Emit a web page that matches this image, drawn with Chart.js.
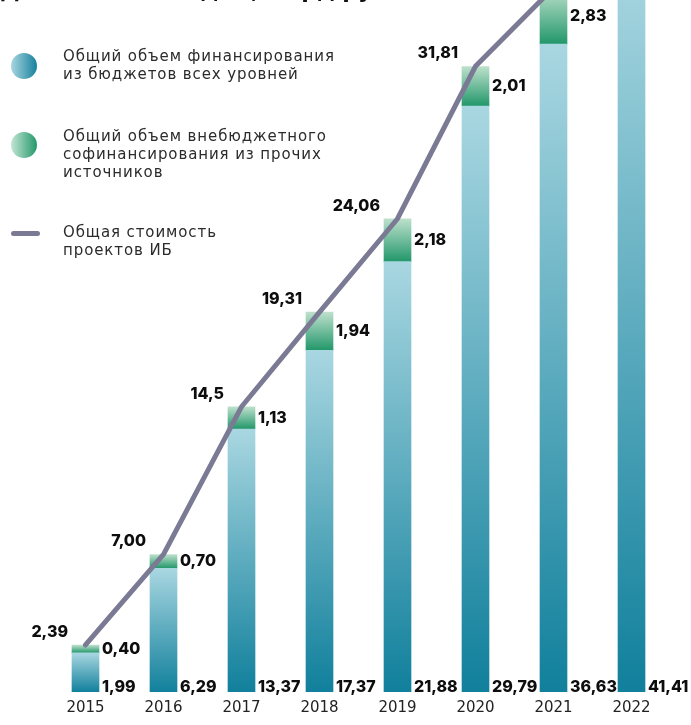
<!DOCTYPE html>
<html lang="ru">
<head>
<meta charset="utf-8">
<script src="https://cdn.jsdelivr.net/npm/chart.js@4.4.0/dist/chart.umd.min.js"></script>
<style>
  body { margin: 0; background: #fff; }
  #wrap { position: relative; width: 691px; height: 725px; overflow: hidden; }
  #wrap canvas { position: absolute; left: 0; top: 0; }
  .title { position: absolute; left: 0; top: -22px; font: bold 22px "DejaVu Sans"; line-height: 26px; color: #111; white-space: nowrap; }
  .legend-text { position: absolute; left: 63px; font: 15px "DejaVu Sans"; line-height: 18px; letter-spacing: 0.9px; color: #2b2b2b; }
  .dot { position: absolute; left: 11px; width: 26px; height: 26px; border-radius: 50%; }
  .dash { position: absolute; left: 11px; top: 231px; width: 29px; height: 5px; border-radius: 3px; background: #7a7a94; }
</style>
</head>
<body>
<div id="wrap">
  <canvas id="chart" width="691" height="725"></canvas>
  <div class="title">Динамика по годам, млрд руб.</div>
  <div class="dot" style="top:53px; background: linear-gradient(90deg, #a9d6e0, #16809c);"></div>
  <div class="legend-text" style="top:47px;">Общий объем финансирования<br>из бюджетов всех уровней</div>
  <div class="dot" style="top:132px; background: linear-gradient(90deg, #c3e5d3, #23986a);"></div>
  <div class="legend-text" style="top:127px;">Общий объем внебюджетного<br>софинансирования из прочих<br>источников</div>
  <div class="dash"></div>
  <div class="legend-text" style="top:223px;">Общая стоимость<br>проектов ИБ</div>
</div>
<script>
// years on the x axis
const years = ['2015', '2016', '2017', '2018', '2019', '2020', '2021', '2022'];

// bar heights as drawn in the picture (2021 and 2022 are drawn shorter than their labels)
const budget = [1.99, 6.29, 13.37, 17.37, 21.88, 29.79, 32.94, 37.2];
const extra = [0.40, 0.70, 1.13, 1.94, 2.18, 2.01, 2.83, 3.0];
const total = [2.39, 7.00, 14.5, 19.31, 24.06, 31.81, 35.8, 40.2];

// printed labels
const budgetLabels = ['1,99', '6,29', '13,37', '17,37', '21,88', '29,79', '36,63', '41,41'];
const extraLabels = ['0,40', '0,70', '1,13', '1,94', '2,18', '2,01', '2,83', null];
const totalLabels = ['2,39', '7,00', '14,5', '19,31', '24,06', '31,81', null, null];

const blueColors = ['#a9d7e1', '#11809c'];
const greenColors = ['#bde0cc', '#22976a'];

// vertical gradient per bar segment, light at top, dark at bottom
function segmentGradient(context, colors, startArr, endArr) {
  const chart = context.chart;
  if (!chart.chartArea || context.type !== 'data') return colors[1];
  const i = context.dataIndex;
  const y = chart.scales.y;
  const top = y.getPixelForValue(endArr(i));
  const bottom = y.getPixelForValue(startArr(i));
  const g = chart.ctx.createLinearGradient(0, top, 0, bottom);
  g.addColorStop(0, colors[0]);
  g.addColorStop(1, colors[1]);
  return g;
}

const valueLabels = {
  id: 'valueLabels',
  afterDatasetsDraw(chart) {
    const ctx = chart.ctx;
    const blue = chart.getDatasetMeta(0).data;
    const green = chart.getDatasetMeta(1).data;
    ctx.save();
    ctx.font = '800 16px Inter';
    ctx.fillStyle = '#0d0d0d';
    blue.forEach((bar, i) => {
      const half = bar.width / 2;
      ctx.textAlign = 'left';
      ctx.textBaseline = 'alphabetic';
      ctx.fillText(budgetLabels[i], bar.x + half + 3, bar.base);
      const seg = green[i];
      if (extraLabels[i]) {
        ctx.textBaseline = 'middle';
        ctx.fillText(extraLabels[i], seg.x + half + 3, (seg.y + seg.base) / 2);
      }
      if (totalLabels[i]) {
        ctx.textAlign = 'right';
        ctx.textBaseline = 'middle';
        ctx.fillText(totalLabels[i], bar.x - half - 4, seg.y - 13);
      }
    });
    ctx.restore();
  }
};

new Chart(document.getElementById('chart'), {
  type: 'bar',
  data: {
    labels: years,
    datasets: [
      {
        label: 'Общий объем финансирования из бюджетов всех уровней',
        data: budget,
        stack: 'funds',
        order: 1,
        barThickness: 27,
        backgroundColor: (c) => segmentGradient(c, blueColors, () => 0, (i) => budget[i]),
      },
      {
        label: 'Общий объем внебюджетного софинансирования из прочих источников',
        data: extra,
        stack: 'funds',
        order: 1,
        barThickness: 27,
        backgroundColor: (c) => segmentGradient(c, greenColors, (i) => budget[i], (i) => budget[i] + extra[i]),
      },
      {
        type: 'line',
        label: 'Общая стоимость проектов ИБ',
        data: total,
        stack: 'total',
        order: 0,
        borderColor: '#7a7a94',
        borderWidth: 5,
        borderCapStyle: 'round',
        pointRadius: 0,
        tension: 0,
      },
    ],
  },
  options: {
    responsive: false,
    animation: false,
    layout: { padding: { left: 46.5, right: 20.5, top: 0, bottom: 0 } },
    plugins: { legend: { display: false }, tooltip: { enabled: false } },
    scales: {
      x: {
        stacked: true,
        grid: { display: false, drawTicks: false },
        border: { display: false },
        ticks: { color: '#222', font: { family: 'DejaVu Sans', size: 15 }, padding: 7 },
        afterFit: (scale) => { scale.height = 33; },
      },
      y: {
        display: false,
        stacked: true,
        min: 0,
        max: 35.18,
      },
    },
  },
  plugins: [valueLabels],
});
</script>
</body>
</html>
